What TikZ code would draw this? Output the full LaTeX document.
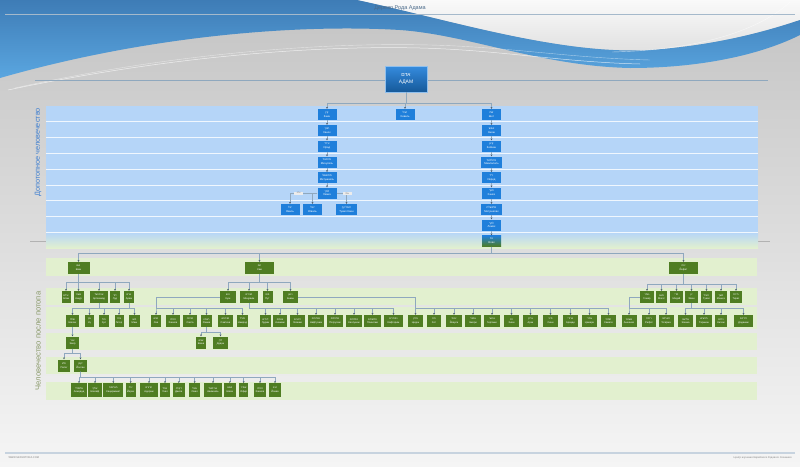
\documentclass[tikz,border=0pt]{standalone}
\usepackage{fontspec}
\setmainfont{Liberation Sans}
\newfontfamily\hebfont[Script=Hebrew]{Liberation Sans}
\TeXXeTstate=1
\usetikzlibrary{arrows.meta,calc}
\newcommand{\hb}[1]{{\hebfont\beginR #1\endR}}
\definecolor{nblue}{HTML}{1F7FDB}
\definecolor{ngreen}{HTML}{4F7D22}
\definecolor{bandblue}{HTML}{B5D5F8}
\definecolor{bandgreen}{HTML}{E2F0CF}
\definecolor{lcol}{HTML}{8FA8BE}
\definecolor{acol}{HTML}{4A5A6A}
\definecolor{bgtop}{HTML}{C4C4C4}
\definecolor{bgmid}{HTML}{D6D6D6}
\definecolor{bgbot}{HTML}{F5F5F5}
\definecolor{wavetop}{HTML}{3E7CB6}
\definecolor{wavebot}{HTML}{5AA6E0}
\definecolor{titlecol}{HTML}{4A6A8A}
\definecolor{sideblue}{HTML}{3F7FD0}
\definecolor{sidegreen}{HTML}{8A9A6A}
\newcommand{\bnd}[7][]{\node[bn=#5,#1] (#2) at (#3,#4) {\hb{#6}\\#7};}
\newcommand{\gnd}[7][]{\node[gn=#5,#1] (#2) at (#3,#4) {\hb{#6}\\#7};}
\begin{document}
\begin{tikzpicture}[x=1pt,y=-1pt,
  bn/.style={fill=nblue, text=white, inner sep=0pt, minimum height=11pt, minimum width=#1pt, font=\fontsize{2.7}{3.7}\selectfont, align=center},
  bn/.default=19,
  gn/.style={fill=ngreen, text=white, inner sep=0pt, minimum height=12pt, minimum width=#1pt, font=\fontsize{2.5}{3.5}\selectfont, align=center},
  gn/.default=12,
  arr/.style={draw=lcol, line width=0.55pt, -{Stealth[length=1.8pt,width=1.8pt,color=acol]}},
  lbl/.style={fill=white!85!gray, text=gray!70!black, inner sep=0.3pt, minimum width=9pt, minimum height=3pt, font=\fontsize{2}{2.4}\selectfont},
  adamst/.style={top color=nblue!90!white, bottom color=nblue!70!black, draw=nblue!50!white, line width=0.7pt, text=white, minimum width=42pt, minimum height=26pt, inner sep=0pt, font=\fontsize{5}{7}\selectfont, align=center},
  gband/.style={fill=bandgreen}
]
\useasboundingbox (0,0) rectangle (800,466);
% background
\shade[top color=bgtop, middle color=bgmid, bottom color=bgbot] (0,0) rectangle (800,466);
\shade[top color=white!96!gray, bottom color=gray!25] (357,0) -- (800,0) -- (800,20) .. controls (770,30) and (720,45) .. (650,50) .. controls (560,55) and (450,20) .. (357,0) -- cycle;
\shade[top color=wavetop, bottom color=wavebot] (0,0) -- (357,0) .. controls (450,20) and (560,55) .. (650,50) .. controls (720,45) and (770,30) .. (800,20) -- (800,35) .. controls (760,55) and (700,68) .. (630,68) .. controls (540,66) and (470,35) .. (400,30) .. controls (300,24) and (150,35) .. (0,78) -- cycle;
\draw[white, opacity=0.7, line width=0.5pt] (8,90) .. controls (150,60) and (300,45) .. (420,48) .. controls (500,50) and (560,62) .. (640,64);
\draw[white, opacity=0.5, line width=0.4pt] (15,88) .. controls (160,56) and (310,42) .. (430,45) .. controls (510,47) and (570,58) .. (650,60);
\draw[white, opacity=0.6, line width=0.4pt] (790,2) .. controls (760,30) and (700,50) .. (612,52);
% title and rules
\draw[lcol!80!white, line width=0.8pt] (5,14) -- (795,14);
\node[text=titlecol, font=\fontsize{5.5}{6}\selectfont] (title) at (400,8.5) {Дерево Рода Адама};
\draw[lcol, line width=0.6pt] (35,80) -- (768,80);
\draw[gray!60, line width=0.6pt] (30,241) -- (770,241);
% blue bands
\fill[bandblue] (46,106) rectangle (758,232.3);
\shade[top color=bandblue, bottom color=bandgreen] (46,232.3) rectangle (758,248);
\foreach \t in {121.8,137.5,153.3,169.1,184.9,200.7,216.5,232.3}
  \draw[white!80!bandblue, line width=0.8pt] (46,\t) -- (758,\t);
% green bands
\foreach \a/\b in {258/276,288/305,307/329,333/350,357/373.5,381.5/399.5}
  \fill[gband] (46,\a) rectangle (757,\b);
% side labels
\node[rotate=90, text=sideblue, font=\fontsize{7.3}{8}\selectfont] (side1) at (38,152.5) {Допотопное человечество};
\node[rotate=90, text=sidegreen, font=\fontsize{7.6}{8}\selectfont] (side2) at (38,341) {Человечество после потопа};
% ===== blue nodes
\node[adamst] (adam) at (406,79) {\hb{אדם}\\АДАМ};
\bnd{kain}{327}{114.5}{19}{קין}{Каин}
\bnd{hevel}{405}{114.5}{19}{הבל}{Хевель}
\bnd{shet}{491.5}{114.5}{19}{שת}{Шет}
\bnd{hanochA}{327}{130.5}{19}{חנוך}{Ханох}
\bnd{irad}{327}{146}{19}{עירד}{Ирад}
\bnd{mehuyael}{327}{162}{19}{מחויאל}{Мехуяэль}
\bnd{metushael}{327}{177.7}{19}{מתושאל}{Метушаэль}
\bnd{lemechA}{327}{193}{19}{למך}{Лемех}
\bnd{yaval}{290}{209.5}{19}{יבל}{Яваль}
\bnd{yuval}{312.5}{209.5}{19}{יובל}{Юваль}
\bnd{tuvalkain}{346.5}{209.5}{21}{תובל קין}{Тувал Каин}
\bnd{enosh}{491.5}{130.5}{19}{אנוש}{Энош}
\bnd{keinan}{491.5}{146}{19}{קינן}{Кейнан}
\bnd{mahalalel}{491.5}{162}{21}{מהללאל}{Маалалель}
\bnd{yered}{491.5}{177.7}{19}{ירד}{Иеред}
\bnd{hanochB}{491.5}{193}{19}{חנוך}{Ханох}
\bnd{metushelah}{491.5}{209.5}{21}{מתושלח}{Метушелах}
\bnd{lemechB}{491.5}{225}{19}{למך}{Лемех}
\bnd[top color=nblue,bottom color=ngreen]{noah}{491.5}{241}{19}{נח}{Ноах}
% ===== green row 1
\gnd{shem}{78.5}{268}{22}{שם}{Шем}
\gnd{ham}{259.5}{268}{29}{חם}{Хам}
\gnd{yefet}{683.5}{268}{29}{יפת}{Йефет}
% row 2
\gnd{elam}{66}{297}{9}{עילם}{Элам}
\gnd{ashur}{78.5}{297}{10}{אשור}{Ашур}
\gnd{arpachshad}{99}{297}{18}{ארפכשד}{Арпахшад}
\gnd{lud}{115}{297}{10}{לוד}{Луд}
\gnd{aram}{129}{297}{10}{ארם}{Арам}
\gnd{cush}{228}{297}{16}{כוש}{Куш}
\gnd{mitzraim}{249}{297}{18}{מצרים}{Мицраим}
\gnd{put}{267.5}{297}{10}{פוט}{Пут}
\gnd{canaan}{290.5}{297}{15}{כנען}{Кнаан}
\gnd{gomer}{647}{297}{14}{גומר}{Гомер}
\gnd{magog}{661.5}{297}{11}{מגוג}{Магог}
\gnd{madai}{676.5}{297}{13}{מדי}{Мадай}
\gnd{yavan}{691.5}{297}{13}{יון}{Яван}
\gnd{tuval}{706.5}{297}{11}{תובל}{Тувал}
\gnd{meshech}{721}{297}{12}{משך}{Мешех}
\gnd{tiras}{736}{297}{12}{תירס}{Тирас}
% row 3
\gnd{shelah}{72.5}{321}{13}{שלח}{Шелах}
\gnd{uz}{89.5}{321}{9}{עוץ}{Уц}
\gnd{hul}{104}{321}{10}{חול}{Хул}
\gnd{geter}{119}{321}{9}{גתר}{Гетер}
\gnd{mash}{134.5}{321}{11}{מש}{Маш}
\gnd{seva}{156}{321}{10}{סבא}{Сва}
\gnd{havila}{173}{321}{14}{חוילה}{Хавила}
\gnd{savta}{190}{321}{14}{סבתה}{Савта}
\gnd{raama}{206.5}{321}{11}{רעמה}{Раама}
\gnd{savteha}{225.5}{321}{15}{סבתכא}{Савтеха}
\gnd{nimrod}{242.5}{321}{11}{נמרד}{Нимрод}
\gnd{ludim}{265.5}{321}{11}{לודים}{Лудим}
\gnd{anamim}{280}{321}{14}{ענמים}{Анамим}
\gnd{lehavim}{297.5}{321}{15}{להבים}{Леавим}
\gnd{naftuhim}{316}{321}{16}{נפתחים}{Нафтухим}
\gnd{patrusim}{335}{321}{16}{פתרסים}{Патрусим}
\gnd{kasluhim}{354}{321}{16}{כסלחים}{Каслухим}
\gnd{plishtim}{372.5}{321}{17}{פלשתים}{Плиштим}
\gnd{kaftorim}{393.5}{321}{19}{כפתרים}{Кафторим}
\gnd{tsidon}{415.5}{321}{15}{צידון}{Цидон}
\gnd{het}{434}{321}{14}{חת}{Хет}
\gnd{yevusi}{454}{321}{16}{יבוסי}{Йевуси}
\gnd{emori}{473}{321}{16}{אמורי}{Эмори}
\gnd{girgashi}{492}{321}{16}{גרגשי}{Гиргаши}
\gnd{hivi}{511.5}{321}{15}{חוי}{Хиви}
\gnd{arki}{530.5}{321}{15}{ערקי}{Арки}
\gnd{sini}{550.5}{321}{15}{סיני}{Сини}
\gnd{arvadi}{570.5}{321}{15}{ארודי}{Арвади}
\gnd{tsemari}{589.5}{321}{15}{צמרי}{Цемари}
\gnd{hamati}{608.5}{321}{15}{חמתי}{Хамати}
\gnd{ashkenaz}{629}{321}{15}{אשכנז}{Ашкеназ}
\gnd{rifat}{649}{321}{14}{ריפת}{Рифат}
\gnd{togarma}{666}{321}{15}{תוגרמה}{Тогарма}
\gnd{elisha}{685.5}{321}{15}{אלישה}{Элиша}
\gnd{tarshish}{704}{321}{16}{תרשיש}{Таршиш}
\gnd{kitim}{721}{321}{12}{כתים}{Китим}
\gnd{dodanim}{743.5}{321}{19}{דודנים}{Доданим}
% row 4
\gnd{ever}{72.5}{342.5}{13}{עבר}{Эвер}
\gnd{sheva}{201}{342.5}{10}{שבא}{Шева}
\gnd{dedan}{220.5}{342.5}{15}{דדן}{Дедан}
% row 5
\gnd{peleg}{64}{365.5}{12}{פלג}{Пелег}
\gnd{yoktan}{80.5}{365.5}{13}{יקטן}{Йоктан}
% row 6
\gnd[minimum height=13.5pt]{almodad}{79}{390}{16}{אלמודד}{Алмодад}
\gnd[minimum height=13.5pt]{shelef}{95}{390}{14}{שלף}{Шелеф}
\gnd[minimum height=13.5pt]{hatsarmavet}{113.3}{390}{20}{חצרמות}{Хацармавет}
\gnd[minimum height=13.5pt]{yerah}{130.7}{390}{10}{ירח}{Йерах}
\gnd[minimum height=13.5pt]{hadoram}{149}{390}{18}{הדורם}{Адорам}
\gnd[minimum height=13.5pt]{uzal}{165}{390}{10}{אוזל}{Узал}
\gnd[minimum height=13.5pt]{dikla}{178.8}{390}{12}{דקלה}{Дикла}
\gnd[minimum height=13.5pt]{oval}{194.7}{390}{11}{עובל}{Овал}
\gnd[minimum height=13.5pt]{avimael}{213}{390}{18}{אבימאל}{Авимаэль}
\gnd[minimum height=13.5pt]{shevaB}{229.8}{390}{12}{שבא}{Шева}
\gnd[minimum height=13.5pt]{ofir}{243.7}{390}{9.5}{אופיר}{Офир}
\gnd[minimum height=13.5pt]{havilaB}{260}{390}{12}{חוילה}{Хавила}
\gnd[minimum height=13.5pt]{yovav}{275}{390}{11.5}{יובב}{Йовав}
% ===== connectors
\coordinate (ya) at (0,103);
\foreach \k in {kain,hevel,shet} \draw[arr] (adam.south) -- (adam.south |- ya) -| (\k.north);
\foreach \a/\b in {kain/hanochA, hanochA/irad, irad/mehuyael, mehuyael/metushael, metushael/lemechA, shet/enosh, enosh/keinan, keinan/mahalalel, mahalalel/yered, yered/hanochB, hanochB/metushelah, metushelah/lemechB, lemechB/noah}
  \draw[arr] (\a.south) -- (\b.north);
\draw[arr] (lemechA.west) -| (yaval.north);
\draw[arr] (lemechA.west) -| (yuval.north);
\draw[arr] (lemechA.east) -| (tuvalkain.north);
\node[lbl] (ada) at (298.7,193) {\hb{עדה}};
\node[lbl] (tsila) at (347,193.3) {\hb{צלה}};
% row 1
\coordinate (g1) at (0,253);
\foreach \k in {shem,ham,yefet} \draw[arr] (noah.south) -- (noah.south |- g1) -| (\k.north);
% row 2
\coordinate (g2a) at (0,282);
\foreach \k in {elam,ashur,arpachshad,lud,aram} \draw[arr] (shem.south) -- (shem.south |- g2a) -| (\k.north);
\foreach \k in {cush,mitzraim,put,canaan} \draw[arr] (ham.south) -- (ham.south |- g2a) -| (\k.north);
\coordinate (g2b) at (0,284);
\foreach \k in {gomer,magog,madai,yavan,tuval,meshech,tiras} \draw[arr] (yefet.south) -- (yefet.south |- g2b) -| (\k.north);
% row 3
\coordinate (g3) at (0,308.5);
\draw[arr] (arpachshad.south) -- (arpachshad.south |- g3) -| (shelah.north);
\foreach \k in {uz,hul,geter,mash} \draw[arr] (aram.south) -- (aram.south |- g3) -| (\k.north);
\foreach \k in {seva,havila,savta,raama,savteha,nimrod} \draw[arr] (cush.west) -| (seva.north |- g3) -| (\k.north);
\foreach \k in {ludim,anamim,lehavim,naftuhim,patrusim,kasluhim,plishtim,kaftorim} \draw[arr] (mitzraim.south) -- (mitzraim.south |- g3) -| (\k.north);
\foreach \k in {tsidon,het,yevusi,emori,girgashi,hivi,arki,sini,arvadi,tsemari,hamati} \draw[arr] (canaan.east) -| (tsidon.north |- g3) -| (\k.north);
\foreach \k in {ashkenaz,rifat,togarma} \draw[arr] (gomer.west) -| (ashkenaz.north |- g3) -| (\k.north);
\foreach \k in {elisha,tarshish,kitim,dodanim} \draw[arr] (yavan.south) -- (yavan.south |- g3) -| (\k.north);
% row 4
\draw[arr] (shelah.south) -- (ever.north);
\coordinate (g4) at (0,332);
\foreach \k in {sheva,dedan} \draw[arr] (raama.south) -- (raama.south |- g4) -| (\k.north);
% row 5
\coordinate (g5) at (0,353);
\foreach \k in {peleg,yoktan} \draw[arr] (ever.south) -- (ever.south |- g5) -| (\k.north);
% row 6
\coordinate (g6) at (0,377);
\foreach \k in {almodad,shelef,hatsarmavet,yerah,hadoram,uzal,dikla,oval,avimael,shevaB,ofir,havilaB,yovav} \draw[arr] (yoktan.south) -- (yoktan.south |- g6) -| (\k.north);
% footer
\draw[lcol!50!white, line width=1.5pt] (5,453) -- (795,453);
\node[anchor=west, text=gray, font=\fontsize{2.6}{3}\selectfont] (footl) at (5,457.5) {WWW.SEFERTORA.COM};
\node[anchor=east, text=gray, font=\fontsize{2.6}{3}\selectfont] (footr) at (795,457.5) {Центр изучения Еврейского Родового Сознания};
\end{tikzpicture}
\end{document}
